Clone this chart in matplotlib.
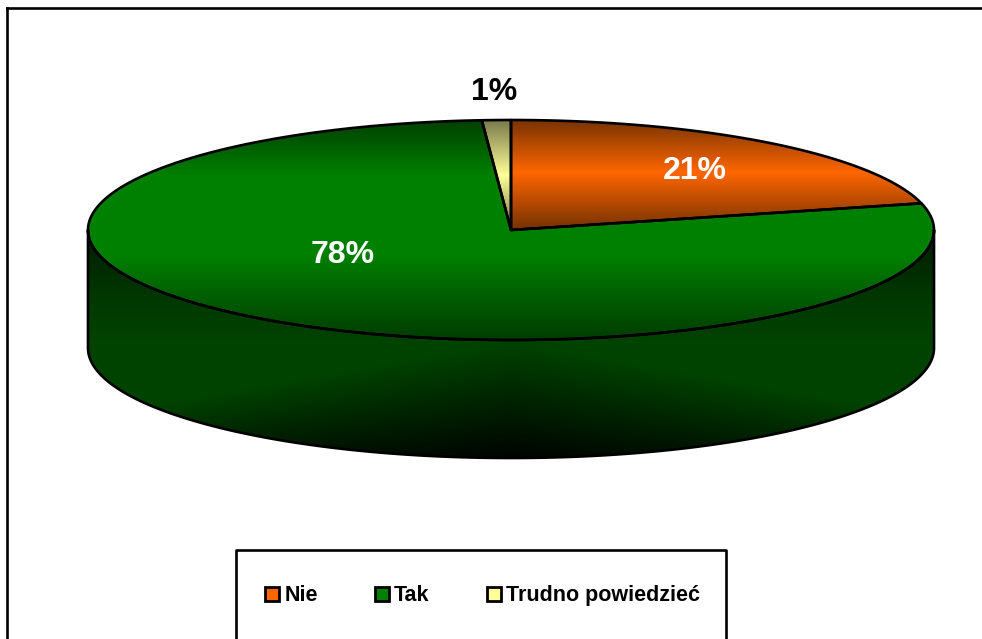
import numpy as np
import matplotlib
matplotlib.use("Agg")
import matplotlib.pyplot as plt
from matplotlib.patches import PathPatch, Rectangle
from matplotlib.path import Path

# ============================================================
# DATA
# ============================================================

categories = ["Nie", "Tak", "Trudno powiedzieć"]
values = [21.1, 77.8, 1.1]
labels = ["21%", "78%", "1%"]
swatch_colors = ["#ff6600", "#008000", "#ffff99"]

# ============================================================
# LAYOUT (pixels)
# ============================================================

W, H = 982, 639
CX, CY = 511, 230
RX, RY = 423, 110
DEPTH = 118

label_pos = [(695, 171), (343, 255), (494, 92)]
label_colors = ["white", "white", "black"]
swatch_x = [265, 375, 487]
text_x = [285, 394, 506]

# y stops for the top face shading
stops_y = {
    0: [120, 172, 228],
    1: [120, 175, 255, 340],
    2: [120, 175, 228],
}
stops_rgb = {
    0: [(0x78, 0x34, 0x00), (0xff, 0x66, 0x00), (0x78, 0x34, 0x00)],
    1: [(0, 0x40, 0), (0, 0x80, 0), (0, 0x80, 0), (0, 0x3c, 0)],
    2: [(0x7a, 0x7a, 0x4c), (0xff, 0xff, 0x99), (0x7a, 0x7a, 0x4c)],
}

plt.rcParams["font.family"] = ["Liberation Sans", "DejaVu Sans"]

fig = plt.figure(figsize=(W / 100, H / 100), dpi=100)
ax = fig.add_axes([0, 0, 1, 1])
ax.axis("off")


def wedge_path(a0, a1):
    t = np.radians(np.linspace(a0, a1, 300))
    xs = CX + RX * np.sin(t)
    ys = CY - RY * np.cos(t)
    verts = [(CX, CY)] + list(zip(xs, ys)) + [(CX, CY)]
    codes = [Path.MOVETO] + [Path.LINETO] * (len(verts) - 2) + [Path.CLOSEPOLY]
    return Path(verts, codes)


def side_path():
    t = np.radians(np.linspace(90, 270, 400))
    xs = CX + RX * np.sin(t)
    ys = CY - RY * np.cos(t)
    verts = list(zip(xs, ys)) + list(zip(xs[::-1], ys[::-1] + DEPTH))
    verts.append(verts[0])
    codes = [Path.MOVETO] + [Path.LINETO] * (len(verts) - 2) + [Path.CLOSEPOLY]
    return Path(verts, codes)


def draw_shaded(img, path):
    patch = PathPatch(path, facecolor="none", edgecolor="black", lw=1.9,
                      joinstyle="round", zorder=3)
    ax.add_patch(patch)
    im = ax.imshow(img, extent=(0, W, H, 0), aspect="auto",
                   interpolation="bilinear", zorder=2)
    im.set_clip_path(patch)


# side of the cylinder
yy, xx = np.mgrid[0:H, 0:W]
u = np.abs(xx + 0.5 - CX) / RX
rise = np.interp(yy, [230, 300, 345], [0x18, 0x36, 0x40])
start = 340 + 75 * u
end = 458 + 40 * u
fade = np.clip((end - yy) / (end - start), 0, 1)
side = np.zeros((H, W, 3), dtype=np.uint8)
side[..., 1] = (rise * fade + 3).astype(np.uint8)
draw_shaded(side, side_path())

# top face
angle = 0.0
total = sum(values)
for i, v in enumerate(values):
    sweep = 360.0 * v / total
    rows = np.arange(H)
    img = np.zeros((H, 1, 3), dtype=np.uint8)
    for c in range(3):
        img[:, 0, c] = np.interp(rows, stops_y[i], [s[c] for s in stops_rgb[i]])
    draw_shaded(img, wedge_path(angle, angle + sweep))
    angle += sweep

for (x, y), txt, col in zip(label_pos, labels, label_colors):
    ax.text(x, y, txt, color=col, fontsize=23, fontweight="bold",
            ha="center", va="center", zorder=5)

# chart frame (only top and left fall inside the picture)
ax.plot([7, 7], [H + 5, 8], color="black", lw=1.9, zorder=6)
ax.plot([7, W + 5], [8, 8], color="black", lw=1.9, zorder=6)

# legend box runs off the bottom edge
ax.plot([236, 236, 726, 726], [H + 5, 550, 550, H + 5], color="black",
        lw=1.9, zorder=6)

for name, col, sx, tx in zip(categories, swatch_colors, swatch_x, text_x):
    ax.add_patch(Rectangle((sx, 587), 14, 14, facecolor=col, edgecolor="black",
                           lw=2.0, zorder=6))
    ax.text(tx, 595.5, name, fontsize=15.5, fontweight="bold", color="black",
            ha="left", va="center", zorder=6)

ax.set_xlim(0, W)
ax.set_ylim(H, 0)

fig.savefig("out.png", dpi=100, facecolor="white")
